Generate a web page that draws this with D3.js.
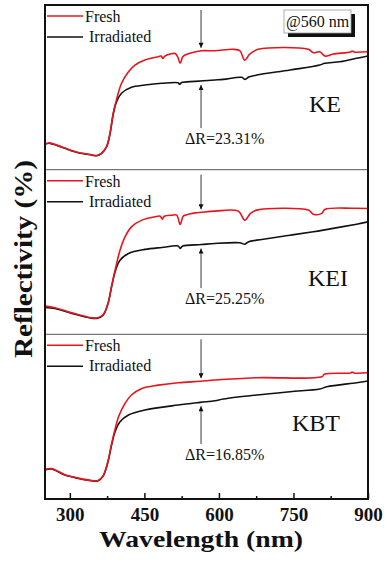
<!DOCTYPE html>
<html><head><meta charset="utf-8">
<script src="https://cdn.jsdelivr.net/npm/d3@7"></script>
<style>
body{margin:0;background:#fff}
svg{display:block}
text{font-family:"Times New Roman","Liberation Serif",serif;fill:#111}
</style>
</head><body>
<svg id="chart" width="387" height="563"></svg>
<script>
// ---------- data ----------
const majorTicks = [300, 450, 600, 750, 900];
const minorTicks = [375, 525, 675, 825];
const sampleNames = ["KE", "KEI", "KBT"];
const deltaLabels = ["ΔR=23.31%", "ΔR=25.25%", "ΔR=16.85%"];
const seriesNames = ["Fresh", "Irradiated"];
const markWavelength = 564;

const keIrradiated = [[250,20.3],[260,20.8],[275,19.0],[290,16.9],[317,13.4],[344,11.6],[354,11.0],[364,12.9],[374,18.1],[381,28.7],[387,43.2],[394,53.7],[404,60.3],[424,65.0],[451,66.8],[485,68.2],[518,68.6],[521,67.4],[525,68.8],[552,69.7],[592,70.8],[609,71.3],[646,72.9],[652,71.3],[660,73.1],[676,74.7],[743,78.7],[803,82.6],[813,84.0],[844,85.2],[877,87.9],[900,89.7]];
const keFresh = [[250,20.5],[260,21.0],[275,19.2],[290,17.1],[317,13.6],[344,11.8],[354,11.2],[364,13.1],[374,18.4],[381,29.2],[387,44.0],[394,55.5],[404,68.2],[418,77.3],[431,82.6],[451,86.6],[478,89.2],[484,89.7],[487,87.8],[491,89.7],[502,91.3],[512,91.7],[517,89.0],[522,84.0],[527,89.0],[532,90.5],[545,92.3],[565,93.9],[592,93.9],[629,95.0],[642,93.9],[652,86.5],[662,91.2],[679,95.0],[780,95.0],[790,92.3],[803,93.1],[813,89.7],[830,91.3],[865,92.9],[868,93.7],[872,92.9],[900,93.1]];

const keiIrradiated = [[250,21.3],[270,20.5],[304,16.6],[337,13.4],[354,12.6],[367,15.2],[377,24.5],[384,37.6],[392,50.7],[401,58.6],[418,63.9],[451,67.1],[485,68.6],[518,69.7],[522,67.9],[527,69.7],[565,70.9],[592,71.8],[642,72.3],[652,71.2],[660,73.2],[676,74.4],[743,78.3],[790,81.0],[810,82.3],[877,87.0],[900,88.8]];
const keiFresh = [[250,22.3],[270,21.1],[304,17.0],[337,13.6],[354,12.9],[367,15.5],[377,24.7],[384,38.1],[392,52.3],[401,66.5],[411,77.0],[424,84.9],[445,90.2],[471,92.8],[482,93.3],[486,91.0],[490,93.3],[505,94.1],[515,94.1],[522,86.8],[528,93.3],[532,94.1],[552,95.9],[565,96.4],[592,97.3],[639,97.3],[652,90.2],[664,95.7],[676,98.1],[780,98.1],[790,94.9],[807,95.5],[813,98.6],[870,99.6],[900,99.4]];

const kbtIrradiated = [[250,22.9],[263,23.7],[290,18.9],[317,16.3],[344,14.4],[357,14.4],[367,18.1],[376,28.2],[384,42.6],[391,53.1],[401,61.0],[418,66.3],[451,70.2],[518,74.2],[562,76.3],[592,77.6],[609,78.9],[676,82.1],[743,84.7],[803,86.8],[817,88.6],[877,91.8],[900,93.1]];
const kbtFresh = [[250,23.2],[263,24.0],[290,19.2],[317,16.5],[344,14.6],[357,14.6],[367,18.4],[376,28.8],[384,43.5],[391,55.0],[398,64.9],[411,75.5],[424,82.1],[445,87.3],[478,89.9],[518,91.8],[562,92.9],[592,93.9],[676,95.7],[807,96.5],[813,98.6],[865,99.5],[868,100.2],[872,99.5],[900,99.6]];

const freshSeries = [keFresh, keiFresh, kbtFresh];
const irradiatedSeries = [keIrradiated, keiIrradiated, kbtIrradiated];

// ---------- layout ----------
const left = 45, right = 368;
const panelTops = [5, 169.7, 334.3];
const panelH = 164.7;
const bottom = panelTops[2] + panelH;
const sampleLabelPos = [[309, 107], [308, 116.3], [292, 96.7]];
const deltaBaseline = [139, 134.3, 125.7];

const svg = d3.select("#chart");
const x = d3.scaleLinear().domain([250, 900]).range([left, right]);

function valueAt(arr, w) {
  const i = d3.bisector(d => d[0]).left(arr, w);
  if (i <= 0) return arr[0][1];
  if (i >= arr.length) return arr[arr.length - 1][1];
  const a = arr[i - 1], b = arr[i];
  return a[1] + (b[1] - a[1]) * (w - a[0]) / (b[0] - a[0]);
}

const defs = svg.append("defs");
defs.append("marker").attr("id", "ah").attr("viewBox", "0 0 10 10")
  .attr("refX", 10).attr("refY", 5).attr("markerWidth", 7).attr("markerHeight", 5)
  .attr("markerUnits", "userSpaceOnUse").attr("orient", "auto")
  .append("path").attr("d", "M0,0L10,5L0,10Z").attr("fill", "#111");

panelTops.forEach((T, i) => {
  const B = T + panelH;
  const y = d3.scaleLinear().domain([0, 130]).range([B, T]);
  defs.append("clipPath").attr("id", "clip" + i).append("rect")
    .attr("x", left).attr("y", T).attr("width", right - left).attr("height", panelH);
  const g = svg.append("g");
  const line = d3.line().x(d => x(d[0])).y(d => y(d[1])).curve(d3.curveCatmullRom.alpha(0.5));
  const cg = g.append("g").attr("clip-path", `url(#clip${i})`);
  cg.append("path").datum(irradiatedSeries[i]).attr("d", line)
    .attr("fill", "none").attr("stroke", "#111").attr("stroke-width", 1.6);
  cg.append("path").datum(freshSeries[i]).attr("d", line)
    .attr("fill", "none").attr("stroke", "#e8141c").attr("stroke-width", 1.6);

  // legend
  const lx0 = left + 2, lx1 = left + 38;
  g.append("line").attr("x1", lx0).attr("x2", lx1).attr("y1", T + 11).attr("y2", T + 11)
    .attr("stroke", "#e8141c").attr("stroke-width", 1.6);
  g.append("text").attr("x", lx1 + 2).attr("y", T + 17).attr("font-size", 16).text(seriesNames[0]);
  g.append("line").attr("x1", lx0).attr("x2", lx1).attr("y1", T + 32).attr("y2", T + 32)
    .attr("stroke", "#111").attr("stroke-width", 1.6);
  g.append("text").attr("x", lx1 + 6).attr("y", T + 37).attr("font-size", 16).text(seriesNames[1]);

  // arrows
  const axp = x(markWavelength);
  const yf = y(valueAt(freshSeries[i], markWavelength));
  const yi = y(valueAt(irradiatedSeries[i], markWavelength));
  g.append("line").attr("x1", axp).attr("x2", axp).attr("y1", T + 5).attr("y2", yf - 3)
    .attr("stroke", "#222").attr("stroke-width", 0.9).attr("marker-end", "url(#ah)");
  const db = T + deltaBaseline[i];
  g.append("line").attr("x1", axp).attr("x2", axp).attr("y1", db - 16).attr("y2", yi + 4)
    .attr("stroke", "#222").attr("stroke-width", 0.9).attr("marker-end", "url(#ah)");
  g.append("text").attr("x", 185).attr("y", db).attr("font-size", 16).text(deltaLabels[i]);

  g.append("text").attr("x", sampleLabelPos[i][0]).attr("y", T + sampleLabelPos[i][1])
    .attr("font-size", 24).text(sampleNames[i]);

  if (i > 0) {
    svg.append("line").attr("x1", left).attr("x2", right).attr("y1", T).attr("y2", T)
      .attr("stroke", "#555").attr("stroke-width", 1);
  }
});

// @560 nm box
svg.append("rect").attr("x", 288).attr("y", 14).attr("width", 67).attr("height", 23).attr("fill", "#111");
svg.append("rect").attr("x", 284).attr("y", 10).attr("width", 67).attr("height", 23)
  .attr("fill", "#fff").attr("stroke", "#999").attr("stroke-width", 0.8);
svg.append("text").attr("x", 286).attr("y", 27).attr("font-size", 16).text("@560 nm");

// frame
svg.append("rect").attr("x", left).attr("y", panelTops[0]).attr("width", right - left)
  .attr("height", bottom - panelTops[0]).attr("fill", "none").attr("stroke", "#111").attr("stroke-width", 2);

// x axis
const xAxis = d3.axisBottom(x).tickValues(majorTicks).tickSizeInner(-6).tickSizeOuter(0);
const axg = svg.append("g").attr("transform", `translate(0,${bottom})`).call(xAxis);
axg.select(".domain").remove();
axg.selectAll(".tick line").attr("stroke", "#111").attr("stroke-width", 1.5);
axg.selectAll(".tick text").attr("font-size", 19).attr("font-weight", "bold")
  .attr("font-family", "'Times New Roman','Liberation Serif',serif").attr("fill", "#111")
  .attr("dy", null).attr("y", 22);
const minorAxis = d3.axisBottom(x).tickValues(minorTicks).tickSizeInner(-3).tickSizeOuter(0).tickFormat("");
const am = svg.append("g").attr("transform", `translate(0,${bottom})`).call(minorAxis);
am.select(".domain").remove();
am.selectAll(".tick line").attr("stroke", "#111").attr("stroke-width", 1.5);

svg.append("text").attr("x", 201).attr("y", 546.5).attr("text-anchor", "middle")
  .attr("font-size", 24).attr("font-weight", "bold")
  .attr("textLength", 204).attr("lengthAdjust", "spacingAndGlyphs").text("Wavelength (nm)");
svg.append("text").attr("transform", "translate(32,259) rotate(-90)").attr("text-anchor", "middle")
  .attr("font-size", 25).attr("font-weight", "bold")
  .attr("textLength", 198).attr("lengthAdjust", "spacingAndGlyphs").text("Reflectivity (%)");
</script>
</body></html>
